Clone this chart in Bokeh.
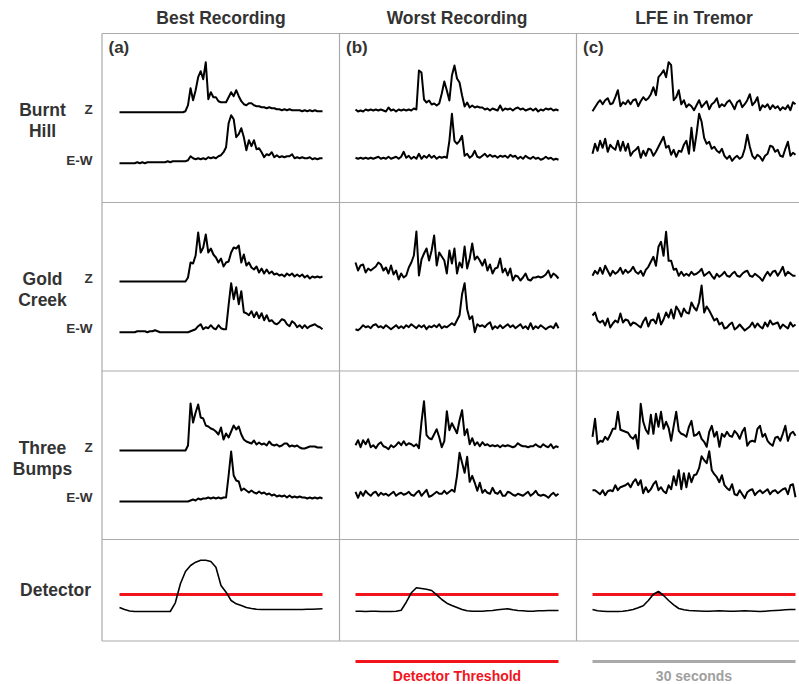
import numpy as np
from bokeh.plotting import figure
from bokeh.models import Range1d
from bokeh.core.properties import value
from bokeh.embed import file_html
from bokeh.resources import INLINE

# ------------------------------------------------------------------ data
column_titles = ["Best Recording", "Worst Recording", "LFE in Tremor"]
panel_tags = ["(a)", "(b)", "(c)"]
station_names = [["Burnt", "Hill"], ["Gold", "Creek"], ["Three", "Bumps"]]
component_names = ["Z", "E-W"]
detector_label = "Detector"
legend_threshold = "Detector Threshold"
legend_scale = "30 seconds"
record_seconds = 30
threshold_level = 17

# Burnt Hill
bh_z_best = [0,0,0,0,0,0,0,0,0,0, 0,0,0,0,0,0,0,0,0,0, 0,0,0,0,0,0,1,7,24,12,
             22,35,41,33,50,13,20,15,15,11, 10,10,10,15,20,16,22,16,11,8,
             7,9,9,7,6,6,5,5,4,5, 4,4,3,3,2,3,2,3,2,2, 2,2,1,2,1,2,1,2,1,1, 1]
bh_ew_best = [0,0,0,0,0,0,0,1,0,1, 0,1,1,1,1,1,1,1,1,2, 1,2,2,2,2,2,2,3,7,5,
              4,5,4,5,4,6,5,6,5,7, 8,11,16,40,48,44,26,29,35,26,
              13,23,17,23,14,15,11,6,9,8, 11,6,8,6,7,6,7,7,9,5, 6,5,6,5,5,6,4,5,4,5, 5]
bh_z_worst = [1,-1,0,-1,1,0,1,0,1,0, 1,0,-1,3,0,1,-1,1,0,1, 0,1,0,2,1,40,38,11,8,10,
              6,7,5,7,17,29,20,10,35,45, 32,28,15,4,8,3,5,3,4,3,
              3,1,2,0,2,1,0,5,0,2, 1,2,0,2,3,1,2,0,1,2, 0,2,-1,1,0,2,1,2,0,1, 0]
bh_ew_worst = [1,0,1,0,1,0,1,0,1,2, 0,1,0,2,0,1,2,0,2,7, 1,3,0,2,0,5,0,3,1,4,
               1,3,0,2,1,2,1,18,45,18, 15,18,23,3,5,1,3,8,2,1,
               3,5,2,4,2,3,1,3,2,3, 1,4,2,3,0,2,0,3,1,0, 2,0,1,-1,0,2,0,1,-1,0, -1]
bh_z_lfe = [-4,0,4,7,3,7,9,3,4,10, 17,1,5,3,7,3,7,8,1,6, 10,7,9,13,20,12,30,33,37,30,
            45,42,7,10,17,3,7,0,3,1, -3,2,7,0,3,6,-2,3,5,9,
            0,3,1,5,7,3,-2,5,7,0, 3,7,13,2,5,10,-3,2,0,3, -2,2,-1,1,-3,0,-2,2,-3,5, 3]
bh_ew_lfe = [0,10,3,13,6,15,2,9,6,4, 13,3,12,3,10,-2,2,4,7,-4, 3,-2,5,4,-2,2,7,12,17,6,
             8,-1,4,-3,3,2,9,13,0,26, 3,20,40,32,16,10,12,5,7,3,
             1,5,-2,-5,-2,-7,-4,-2,-5,-3, 5,19,7,-2,-5,-1,-3,-7,-2,0, 8,7,2,4,-2,-3,5,12,-2,1, -1]

# Gold Creek
gc_z_best = [0,0,0,0,0,0,0,0,0,0, 0,0,0,0,0,0,0,0,0,0, 0,0,0,0,0,0,0,4,19,18,
             26,49,29,34,47,29,33,27,24,19, 23,15,19,20,29,34,33,36,19,27,
             16,19,14,12,15,9,13,8,12,8, 10,7,8,6,7,5,8,6,8,5, 7,5,7,4,6,3,5,4,5,4, 5]
gc_ew_best = [0,0,0,0,0,0,0,1,1,1, 1,0,1,1,2,1,0,0,0,0, 0,0,0,0,0,0,0,0,1,2,
              3,6,8,3,5,4,7,4,3,7, 4,3,3,27,49,33,45,28,41,20,
              19,17,21,15,20,14,19,12,17,11, 12,9,8,10,13,12,8,6,11,9, 5,7,4,7,4,6,7,8,6,5, 3]
gc_z_worst = [13,5,10,11,3,7,5,7,9,13, 11,5,8,2,10,1,5,-4,2,-2, 0,8,13,20,44,0,16,22,27,15,
              25,40,10,23,19,15,2,25,12,27, 2,13,8,29,7,17,32,16,19,15,
              10,16,5,11,2,7,8,17,3,7, 0,7,-5,0,-1,-5,-2,2,-4,-5, -2,-2,-1,-2,-1,1,5,-2,2,0, -3]
gc_ew_worst = [-2,-3,-1,2,0,1,-1,2,3,0, 1,-1,2,0,-2,0,2,-1,1,-1, 2,0,3,1,-1,2,0,2,-2,1,
               0,2,0,3,-1,1,0,2,4,2, 7,12,33,44,18,8,11,-5,3,1,
               2,0,3,5,-2,1,-1,2,-1,1, 3,0,2,-1,1,3,-1,1,-2,4, -2,1,-1,2,0,-2,0,1,-1,4, -1]
gc_z_lfe = [-2,3,0,6,0,8,3,-2,3,0, 2,6,0,4,1,3,7,2,0,3, -2,4,7,12,17,8,27,32,18,42,
            13,13,4,5,-2,2,-2,0,-2,2, -1,0,2,5,-2,0,2,-2,-5,0,
            -3,-1,2,-2,-3,0,2,-2,-3,0, 2,3,-2,-3,0,-2,-4,-7,-2,2, -2,2,3,-2,2,7,-2,2,0,-2, -2]
gc_ew_lfe = [10,13,5,3,5,0,7,-2,2,5, 3,12,3,6,5,0,3,2,0,-2, 4,8,-1,5,6,2,12,1,6,13,
             8,16,7,19,15,9,17,13,12,23, 18,15,23,40,13,19,15,10,5,7,
             1,3,-3,-2,1,3,-4,-2,1,-2, -5,-3,-1,3,-2,2,-1,-3,3,-1, 5,1,2,3,-3,1,-1,-3,3,-1, 1]

# Three Bumps
tb_z_best = [0,0,0,0,0,0,0,0,0,0, 0,0,0,0,0,0,0,0,0,0, 0,0,0,0,0,0,0,5,47,28,
             38,46,33,32,25,24,22,21,19,16, 23,11,17,13,19,25,21,24,16,11,
             9,8,7,10,6,8,6,7,5,9, 6,5,6,4,5,7,7,4,5,4, 5,3,2,2,3,4,4,4,3,3, 3]
tb_ew_best = [0,0,0,0,0,0,0,0,0,0, 0,0,0,0,0,0,0,0,0,0, 0,0,0,0,0,0,0,0,1,2,
              1,3,2,3,3,4,3,4,3,4, 3,4,4,26,50,26,21,20,11,13,
              11,9,11,9,8,10,8,9,7,8, 6,7,5,6,5,6,4,6,4,5, 4,5,4,4,3,4,3,4,3,4, 3]
tb_z_worst = [1,6,-1,6,2,7,-1,1,-2,2, 4,0,-1,-3,1,-1,1,4,1,5, 1,3,2,0,2,-2,24,45,11,8,
              7,12,17,9,-1,5,35,16,23,18, 13,26,36,11,17,2,8,1,4,0,
              4,1,2,0,1,0,1,-1,1,0, 1,0,-1,0,3,1,0,0,-1,0, 0,2,0,-1,2,0,-1,2,-2,0, -1]
tb_ew_worst = [3,-3,3,-1,4,1,-1,2,3,-1, 2,0,1,-1,1,3,-1,1,2,0, 1,3,0,-1,2,4,-1,2,5,-2,
               -1,1,3,1,1,4,1,3,5,3, 19,42,32,22,38,13,19,12,4,12,
               2,5,2,1,7,2,1,4,-1,-1, 3,2,0,-1,1,0,-1,1,3,-1, 1,4,0,-1,0,-1,-3,0,2,-1, 1]
tb_z_lfe = [2,20,-5,-2,-3,2,-1,4,10,10, 27,9,8,7,6,2,0,4,-10,35, 17,9,5,24,5,25,12,27,10,17,
            11,-2,13,27,8,5,4,2,12,18, 3,4,7,0,-3,-8,7,13,2,7,
            -8,5,2,7,3,2,8,5,0,7, 11,-7,-3,-2,-3,10,13,2,5,-2, -5,-7,1,2,-2,5,13,-2,5,7, 3]
tb_ew_lfe = [2,2,0,-2,2,-3,1,2,1,7, 2,5,6,7,9,5,10,13,7,12, -1,5,0,3,8,11,2,5,1,-1,
             7,3,16,7,22,3,19,5,19,10, 17,18,24,36,32,29,41,22,18,15,
             10,17,7,4,2,8,-2,-3,2,-2, -6,0,2,3,-3,0,2,-1,1,3, -2,1,2,-1,1,3,4,-2,7,8, -5]

# Detector output
det_best = [4,2,0.5,0,0,0,0,0,0,0,0, 8.7,27.7,40,46,49.3,51.3,51.3,50,44.3,26,
            19.3,11,7.7,6,4,3,2.3,2,2,2, 2,2,2,2,2,2,2.3,2.3,2.5,2.7]
det_worst = [0.3,0.3,0,0.3,0.3,0,0,0,0.3,1.3, 9.3,18.7,23.7,23,22.3,21,16.7,12,8.3,6,
             4,2,0.7,0.3,0.3,0.3,0.7,1,1.7,2.3, 2.7,1.7,1,0.7,0.3,0.3,0.7,0.7,1,1,1]
det_lfe = [2,0.7,0.3,0,0,0,0.3,1,2,3.7, 5.7,11,17.3,20,16,11,6.7,3,1.7,1,
           0.7,0.5,0.3,0.3,0.5,0.7,0.5,0.3,0.3,0.5, 0.7,0.5,0.3,0,0.3,0.7,1,1.3,1.7,2,2]

traces = [
    [[bh_z_best, bh_ew_best], [bh_z_worst, bh_ew_worst], [bh_z_lfe, bh_ew_lfe]],
    [[gc_z_best, gc_ew_best], [gc_z_worst, gc_ew_worst], [gc_z_lfe, gc_ew_lfe]],
    [[tb_z_best, tb_ew_best], [tb_z_worst, tb_ew_worst], [tb_z_lfe, tb_ew_lfe]],
]
detectors = [det_best, det_worst, det_lfe]

# ------------------------------------------------------------------ layout
W, H = 799, 684
FONT = value("Liberation Sans")
TEXT = "#333333"
GRID = "#ababab"
RED = "#f2141c"

col_x0 = [119, 355, 592]          # left end of each 30 s trace
trace_px = 203                    # pixel length of 30 s
col_edges = [101.5, 339, 576]
row_edges = [33, 202, 370.5, 539, 640.5]
baselines = [
    [[111.7, 162.7], [110, 158.3], [106.7, 153.3]],
    [[281, 331.7], [275, 326.7], [273.3, 325]],
    [[450, 501], [445.7, 494.3], [438.3, 491.7]],
]
det_base = 611
name_y = [(109, 130), (278, 299), (447, 468)]
comp_y = [(109, 160), (278, 328), (447, 497)]

p = figure(width=W, height=H, x_range=Range1d(0, W), y_range=Range1d(H, 0),
           output_backend="svg", toolbar_location=None, min_border=0)
p.axis.visible = False
p.grid.visible = False
p.outline_line_color = None
p.background_fill_color = "white"
p.border_fill_color = "white"

# grid frame
for y in row_edges:
    p.line([col_edges[0], W], [y, y], line_color=GRID, line_width=1.2)
for x in col_edges:
    p.line([x, x], [row_edges[0], row_edges[-1]], line_color=GRID, line_width=1.2)

def tx(n, c):
    t = np.linspace(0, record_seconds, n)
    return col_x0[c] + t / record_seconds * trace_px

for r in range(3):
    for c in range(3):
        for k in range(2):
            amp = np.asarray(traces[r][c][k], dtype=float)
            p.line(tx(len(amp), c), baselines[r][c][k] - amp,
                   line_color="black", line_width=2, line_join="round")

for c in range(3):
    amp = np.asarray(detectors[c], dtype=float)
    xs = tx(len(amp), c)
    p.line([xs[0], xs[-1]], [det_base - threshold_level] * 2,
           line_color=RED, line_width=3)
    p.line(xs, det_base - amp, line_color="black", line_width=1.6, line_join="round")

# texts
def txt(x, y, s, size, color=TEXT, align="center", style="bold"):
    p.text(x=[x], y=[y], text=[s], text_font=FONT, text_font_size=size,
           text_font_style=style, text_color=color, text_align=align,
           text_baseline="middle")

for c in range(3):
    txt(col_x0[c] + trace_px / 2, 17, column_titles[c], "17.5px")
    txt(col_edges[c] + 6.5, 47, panel_tags[c], "17px", align="left")

for r in range(3):
    for j in range(2):
        txt(42, name_y[r][j], station_names[r][j], "17.5px")
    txt(88, comp_y[r][0], component_names[0], "13.5px")
    txt(92, comp_y[r][1], component_names[1], "13.5px", align="right")
txt(55, 589, detector_label, "17.5px")

# legend
xb = tx(2, 1)
p.line(xb, [661, 661], line_color=RED, line_width=3)
txt((xb[0] + xb[1]) / 2, 675, legend_threshold, "14px", color=RED)
xc = tx(2, 2)
p.line(xc, [661, 661], line_color="#aaaaaa", line_width=3)
txt((xc[0] + xc[1]) / 2, 675, legend_scale, "14px", color="#a0a0a0")

open("out.html", "w").write(file_html(p, INLINE))
